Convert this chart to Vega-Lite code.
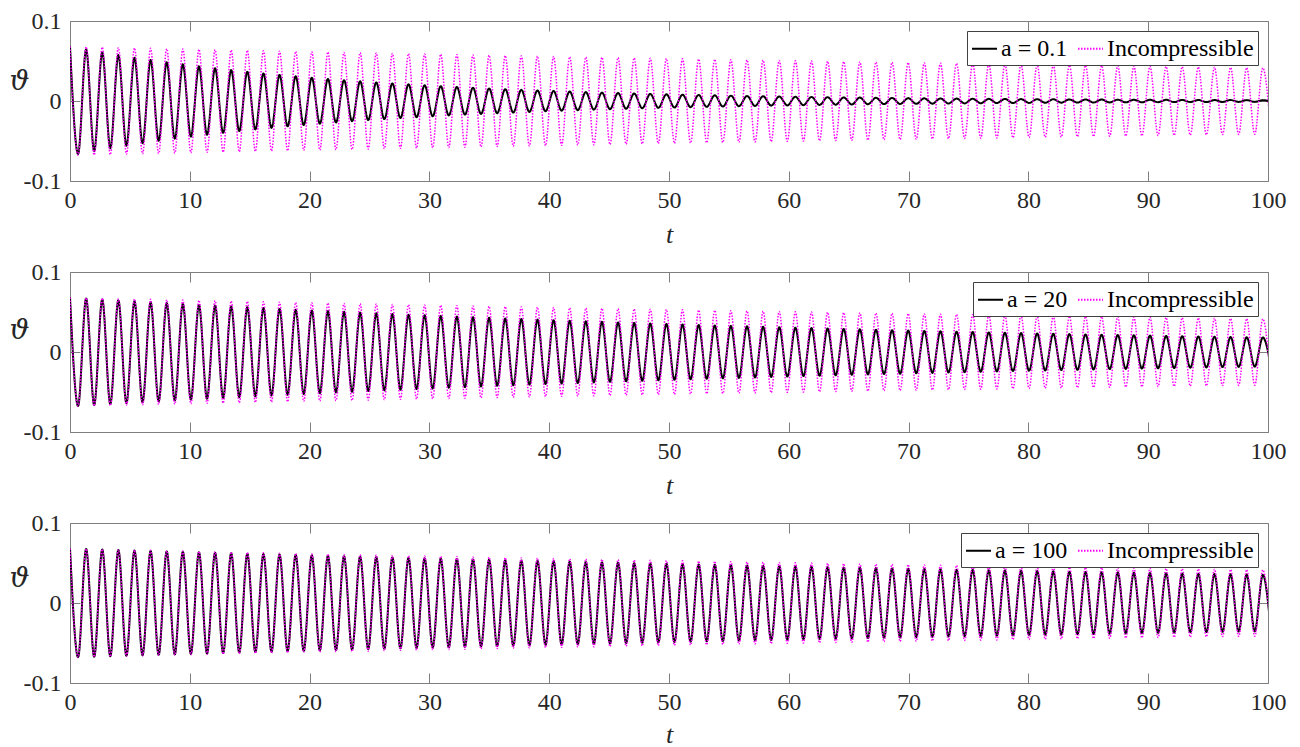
{
"$schema": "https://vega.github.io/schema/vega-lite/v6.json",
"autosize": {"type": "pad"},
"padding": {"top": 8, "left": 8, "right": 0, "bottom": 0},
"background": "#ffffff",
"config": {
 "font": "Liberation Serif",
 "style": {"guide-label": {"font": "Liberation Serif", "fontSize": 24}, "guide-title": {"font": "Liberation Serif", "fontSize": 26}},
 "view": {"stroke": "#7f7f7f", "strokeWidth": 1},
 "axis": {"domain": false, "grid": false, "tickColor": "#7f7f7f", "tickSize": -10, "tickWidth": 1, "labelFont": "Liberation Serif", "labelFontSize": 24, "labelColor": "#262626", "titleFont": "Liberation Serif", "titleFontSize": 26, "titleColor": "#262626", "titleFontWeight": "normal", "titleFontStyle": "italic"},
 "legend": {"orient": "top-right", "direction": "horizontal", "offset": 10, "padding": 4, "fillColor": "#ffffff", "strokeColor": "#404040", "cornerRadius": 0, "labelFont": "Liberation Serif", "labelFontSize": 24, "labelColor": "#000000", "symbolType": "stroke", "symbolSize": 625, "symbolStrokeWidth": 2, "columnPadding": 6, "labelOffset": 3}
},
"spacing": 91,
"bounds": "flush",
"resolve": {"scale": {"color": "independent", "strokeDash": "independent"}},
"datasets": {"d": [
{"s":"Incompressible","t":0,"v":0.068},{"s":"Incompressible","t":0.673,"v":-0.0678},{"s":"Incompressible","t":1.346,"v":0.0676},{"s":"Incompressible","t":2.018,"v":-0.0673},{"s":"Incompressible","t":2.691,"v":0.0671},{"s":"Incompressible","t":3.364,"v":-0.0669},{"s":"Incompressible","t":4.037,"v":0.0667},{"s":"Incompressible","t":4.709,"v":-0.0664},{"s":"Incompressible","t":5.382,"v":0.0662},{"s":"Incompressible","t":6.055,"v":-0.066},
{"s":"Incompressible","t":6.728,"v":0.0658},{"s":"Incompressible","t":7.4,"v":-0.0655},{"s":"Incompressible","t":8.073,"v":0.0653},{"s":"Incompressible","t":8.746,"v":-0.0651},{"s":"Incompressible","t":9.419,"v":0.0649},{"s":"Incompressible","t":10.091,"v":-0.0647},{"s":"Incompressible","t":10.764,"v":0.0645},{"s":"Incompressible","t":11.437,"v":-0.0642},{"s":"Incompressible","t":12.11,"v":0.064},{"s":"Incompressible","t":12.782,"v":-0.0638},
{"s":"Incompressible","t":13.455,"v":0.0636},{"s":"Incompressible","t":14.128,"v":-0.0634},{"s":"Incompressible","t":14.801,"v":0.0632},{"s":"Incompressible","t":15.473,"v":-0.063},{"s":"Incompressible","t":16.146,"v":0.0627},{"s":"Incompressible","t":16.819,"v":-0.0625},{"s":"Incompressible","t":17.492,"v":0.0623},{"s":"Incompressible","t":18.164,"v":-0.0621},{"s":"Incompressible","t":18.837,"v":0.0619},{"s":"Incompressible","t":19.51,"v":-0.0617},
{"s":"Incompressible","t":20.183,"v":0.0615},{"s":"Incompressible","t":20.855,"v":-0.0613},{"s":"Incompressible","t":21.528,"v":0.0611},{"s":"Incompressible","t":22.201,"v":-0.0609},{"s":"Incompressible","t":22.874,"v":0.0607},{"s":"Incompressible","t":23.546,"v":-0.0605},{"s":"Incompressible","t":24.219,"v":0.0603},{"s":"Incompressible","t":24.892,"v":-0.0601},{"s":"Incompressible","t":25.565,"v":0.0599},{"s":"Incompressible","t":26.237,"v":-0.0596},
{"s":"Incompressible","t":26.91,"v":0.0594},{"s":"Incompressible","t":27.583,"v":-0.0592},{"s":"Incompressible","t":28.256,"v":0.0591},{"s":"Incompressible","t":28.928,"v":-0.0589},{"s":"Incompressible","t":29.601,"v":0.0587},{"s":"Incompressible","t":30.274,"v":-0.0585},{"s":"Incompressible","t":30.947,"v":0.0583},{"s":"Incompressible","t":31.619,"v":-0.0581},{"s":"Incompressible","t":32.292,"v":0.0579},{"s":"Incompressible","t":32.965,"v":-0.0577},
{"s":"Incompressible","t":33.638,"v":0.0575},{"s":"Incompressible","t":34.31,"v":-0.0573},{"s":"Incompressible","t":34.983,"v":0.0571},{"s":"Incompressible","t":35.656,"v":-0.0569},{"s":"Incompressible","t":36.329,"v":0.0567},{"s":"Incompressible","t":37.001,"v":-0.0565},{"s":"Incompressible","t":37.674,"v":0.0563},{"s":"Incompressible","t":38.347,"v":-0.0561},{"s":"Incompressible","t":39.02,"v":0.056},{"s":"Incompressible","t":39.692,"v":-0.0558},
{"s":"Incompressible","t":40.365,"v":0.0556},{"s":"Incompressible","t":41.038,"v":-0.0554},{"s":"Incompressible","t":41.711,"v":0.0552},{"s":"Incompressible","t":42.383,"v":-0.055},{"s":"Incompressible","t":43.056,"v":0.0548},{"s":"Incompressible","t":43.729,"v":-0.0547},{"s":"Incompressible","t":44.402,"v":0.0545},{"s":"Incompressible","t":45.074,"v":-0.0543},{"s":"Incompressible","t":45.747,"v":0.0541},{"s":"Incompressible","t":46.42,"v":-0.0539},
{"s":"Incompressible","t":47.093,"v":0.0537},{"s":"Incompressible","t":47.765,"v":-0.0536},{"s":"Incompressible","t":48.438,"v":0.0534},{"s":"Incompressible","t":49.111,"v":-0.0532},{"s":"Incompressible","t":49.784,"v":0.053},{"s":"Incompressible","t":50.456,"v":-0.0529},{"s":"Incompressible","t":51.129,"v":0.0527},{"s":"Incompressible","t":51.802,"v":-0.0525},{"s":"Incompressible","t":52.475,"v":0.0523},{"s":"Incompressible","t":53.147,"v":-0.0521},
{"s":"Incompressible","t":53.82,"v":0.052},{"s":"Incompressible","t":54.493,"v":-0.0518},{"s":"Incompressible","t":55.166,"v":0.0516},{"s":"Incompressible","t":55.838,"v":-0.0514},{"s":"Incompressible","t":56.511,"v":0.0513},{"s":"Incompressible","t":57.184,"v":-0.0511},{"s":"Incompressible","t":57.857,"v":0.0509},{"s":"Incompressible","t":58.529,"v":-0.0508},{"s":"Incompressible","t":59.202,"v":0.0506},{"s":"Incompressible","t":59.875,"v":-0.0504},
{"s":"Incompressible","t":60.548,"v":0.0502},{"s":"Incompressible","t":61.22,"v":-0.0501},{"s":"Incompressible","t":61.893,"v":0.0499},{"s":"Incompressible","t":62.566,"v":-0.0497},{"s":"Incompressible","t":63.239,"v":0.0496},{"s":"Incompressible","t":63.911,"v":-0.0494},{"s":"Incompressible","t":64.584,"v":0.0492},{"s":"Incompressible","t":65.257,"v":-0.0491},{"s":"Incompressible","t":65.93,"v":0.0489},{"s":"Incompressible","t":66.602,"v":-0.0488},
{"s":"Incompressible","t":67.275,"v":0.0486},{"s":"Incompressible","t":67.948,"v":-0.0484},{"s":"Incompressible","t":68.621,"v":0.0483},{"s":"Incompressible","t":69.293,"v":-0.0481},{"s":"Incompressible","t":69.966,"v":0.0479},{"s":"Incompressible","t":70.639,"v":-0.0478},{"s":"Incompressible","t":71.312,"v":0.0476},{"s":"Incompressible","t":71.984,"v":-0.0475},{"s":"Incompressible","t":72.657,"v":0.0473},{"s":"Incompressible","t":73.33,"v":-0.0471},
{"s":"Incompressible","t":74.003,"v":0.047},{"s":"Incompressible","t":74.675,"v":-0.0468},{"s":"Incompressible","t":75.348,"v":0.0467},{"s":"Incompressible","t":76.021,"v":-0.0465},{"s":"Incompressible","t":76.694,"v":0.0464},{"s":"Incompressible","t":77.366,"v":-0.0462},{"s":"Incompressible","t":78.039,"v":0.046},{"s":"Incompressible","t":78.712,"v":-0.0459},{"s":"Incompressible","t":79.385,"v":0.0457},{"s":"Incompressible","t":80.057,"v":-0.0456},
{"s":"Incompressible","t":80.73,"v":0.0454},{"s":"Incompressible","t":81.403,"v":-0.0453},{"s":"Incompressible","t":82.076,"v":0.0451},{"s":"Incompressible","t":82.748,"v":-0.045},{"s":"Incompressible","t":83.421,"v":0.0448},{"s":"Incompressible","t":84.094,"v":-0.0447},{"s":"Incompressible","t":84.767,"v":0.0445},{"s":"Incompressible","t":85.439,"v":-0.0444},{"s":"Incompressible","t":86.112,"v":0.0442},{"s":"Incompressible","t":86.785,"v":-0.0441},
{"s":"Incompressible","t":87.458,"v":0.0439},{"s":"Incompressible","t":88.13,"v":-0.0438},{"s":"Incompressible","t":88.803,"v":0.0436},{"s":"Incompressible","t":89.476,"v":-0.0435},{"s":"Incompressible","t":90.149,"v":0.0433},{"s":"Incompressible","t":90.821,"v":-0.0432},{"s":"Incompressible","t":91.494,"v":0.043},{"s":"Incompressible","t":92.167,"v":-0.0429},{"s":"Incompressible","t":92.84,"v":0.0428},{"s":"Incompressible","t":93.512,"v":-0.0426},
{"s":"Incompressible","t":94.185,"v":0.0425},{"s":"Incompressible","t":94.858,"v":-0.0423},{"s":"Incompressible","t":95.531,"v":0.0422},{"s":"Incompressible","t":96.203,"v":-0.042},{"s":"Incompressible","t":96.876,"v":0.0419},{"s":"Incompressible","t":97.549,"v":-0.0418},{"s":"Incompressible","t":98.222,"v":0.0416},{"s":"Incompressible","t":98.894,"v":-0.0415},{"s":"Incompressible","t":99.567,"v":0.0413},{"s":"Incompressible","t":100.24,"v":-0.0412},
{"s":"a = 0.1","t":0,"v":0.068},{"s":"a = 0.1","t":0.673,"v":-0.0661},{"s":"a = 0.1","t":1.346,"v":0.0643},{"s":"a = 0.1","t":2.018,"v":-0.0625},{"s":"a = 0.1","t":2.691,"v":0.0607},{"s":"a = 0.1","t":3.364,"v":-0.059},{"s":"a = 0.1","t":4.037,"v":0.0574},{"s":"a = 0.1","t":4.709,"v":-0.0558},{"s":"a = 0.1","t":5.382,"v":0.0542},{"s":"a = 0.1","t":6.055,"v":-0.0527},
{"s":"a = 0.1","t":6.728,"v":0.0513},{"s":"a = 0.1","t":7.4,"v":-0.0498},{"s":"a = 0.1","t":8.073,"v":0.0484},{"s":"a = 0.1","t":8.746,"v":-0.0471},{"s":"a = 0.1","t":9.419,"v":0.0458},{"s":"a = 0.1","t":10.091,"v":-0.0445},{"s":"a = 0.1","t":10.764,"v":0.0433},{"s":"a = 0.1","t":11.437,"v":-0.0421},{"s":"a = 0.1","t":12.11,"v":0.0409},{"s":"a = 0.1","t":12.782,"v":-0.0398},
{"s":"a = 0.1","t":13.455,"v":0.0386},{"s":"a = 0.1","t":14.128,"v":-0.0376},{"s":"a = 0.1","t":14.801,"v":0.0365},{"s":"a = 0.1","t":15.473,"v":-0.0355},{"s":"a = 0.1","t":16.146,"v":0.0345},{"s":"a = 0.1","t":16.819,"v":-0.0336},{"s":"a = 0.1","t":17.492,"v":0.0326},{"s":"a = 0.1","t":18.164,"v":-0.0317},{"s":"a = 0.1","t":18.837,"v":0.0308},{"s":"a = 0.1","t":19.51,"v":-0.03},
{"s":"a = 0.1","t":20.183,"v":0.0291},{"s":"a = 0.1","t":20.855,"v":-0.0283},{"s":"a = 0.1","t":21.528,"v":0.0275},{"s":"a = 0.1","t":22.201,"v":-0.0268},{"s":"a = 0.1","t":22.874,"v":0.026},{"s":"a = 0.1","t":23.546,"v":-0.0253},{"s":"a = 0.1","t":24.219,"v":0.0246},{"s":"a = 0.1","t":24.892,"v":-0.0239},{"s":"a = 0.1","t":25.565,"v":0.0232},{"s":"a = 0.1","t":26.237,"v":-0.0226},
{"s":"a = 0.1","t":26.91,"v":0.022},{"s":"a = 0.1","t":27.583,"v":-0.0213},{"s":"a = 0.1","t":28.256,"v":0.0208},{"s":"a = 0.1","t":28.928,"v":-0.0202},{"s":"a = 0.1","t":29.601,"v":0.0196},{"s":"a = 0.1","t":30.274,"v":-0.0191},{"s":"a = 0.1","t":30.947,"v":0.0185},{"s":"a = 0.1","t":31.619,"v":-0.018},{"s":"a = 0.1","t":32.292,"v":0.0175},{"s":"a = 0.1","t":32.965,"v":-0.017},
{"s":"a = 0.1","t":33.638,"v":0.0166},{"s":"a = 0.1","t":34.31,"v":-0.0161},{"s":"a = 0.1","t":34.983,"v":0.0156},{"s":"a = 0.1","t":35.656,"v":-0.0152},{"s":"a = 0.1","t":36.329,"v":0.0148},{"s":"a = 0.1","t":37.001,"v":-0.0144},{"s":"a = 0.1","t":37.674,"v":0.014},{"s":"a = 0.1","t":38.347,"v":-0.0136},{"s":"a = 0.1","t":39.02,"v":0.0132},{"s":"a = 0.1","t":39.692,"v":-0.0128},
{"s":"a = 0.1","t":40.365,"v":0.0125},{"s":"a = 0.1","t":41.038,"v":-0.0121},{"s":"a = 0.1","t":41.711,"v":0.0118},{"s":"a = 0.1","t":42.383,"v":-0.0115},{"s":"a = 0.1","t":43.056,"v":0.0111},{"s":"a = 0.1","t":43.729,"v":-0.0108},{"s":"a = 0.1","t":44.402,"v":0.0105},{"s":"a = 0.1","t":45.074,"v":-0.0102},{"s":"a = 0.1","t":45.747,"v":0.01},{"s":"a = 0.1","t":46.42,"v":-0.0097},
{"s":"a = 0.1","t":47.093,"v":0.0094},{"s":"a = 0.1","t":47.765,"v":-0.0091},{"s":"a = 0.1","t":48.438,"v":0.0089},{"s":"a = 0.1","t":49.111,"v":-0.0086},{"s":"a = 0.1","t":49.784,"v":0.0084},{"s":"a = 0.1","t":50.456,"v":-0.0082},{"s":"a = 0.1","t":51.129,"v":0.0079},{"s":"a = 0.1","t":51.802,"v":-0.0077},{"s":"a = 0.1","t":52.475,"v":0.0075},{"s":"a = 0.1","t":53.147,"v":-0.0073},
{"s":"a = 0.1","t":53.82,"v":0.0071},{"s":"a = 0.1","t":54.493,"v":-0.0069},{"s":"a = 0.1","t":55.166,"v":0.0067},{"s":"a = 0.1","t":55.838,"v":-0.0065},{"s":"a = 0.1","t":56.511,"v":0.0063},{"s":"a = 0.1","t":57.184,"v":-0.0062},{"s":"a = 0.1","t":57.857,"v":0.006},{"s":"a = 0.1","t":58.529,"v":-0.0058},{"s":"a = 0.1","t":59.202,"v":0.0057},{"s":"a = 0.1","t":59.875,"v":-0.0055},
{"s":"a = 0.1","t":60.548,"v":0.0053},{"s":"a = 0.1","t":61.22,"v":-0.0052},{"s":"a = 0.1","t":61.893,"v":0.0051},{"s":"a = 0.1","t":62.566,"v":-0.0049},{"s":"a = 0.1","t":63.239,"v":0.0048},{"s":"a = 0.1","t":63.911,"v":-0.0046},{"s":"a = 0.1","t":64.584,"v":0.0045},{"s":"a = 0.1","t":65.257,"v":-0.0044},{"s":"a = 0.1","t":65.93,"v":0.0043},{"s":"a = 0.1","t":66.602,"v":-0.0041},
{"s":"a = 0.1","t":67.275,"v":0.004},{"s":"a = 0.1","t":67.948,"v":-0.0039},{"s":"a = 0.1","t":68.621,"v":0.0038},{"s":"a = 0.1","t":69.293,"v":-0.0037},{"s":"a = 0.1","t":69.966,"v":0.0036},{"s":"a = 0.1","t":70.639,"v":-0.0035},{"s":"a = 0.1","t":71.312,"v":0.0034},{"s":"a = 0.1","t":71.984,"v":-0.0033},{"s":"a = 0.1","t":72.657,"v":0.0032},{"s":"a = 0.1","t":73.33,"v":-0.0031},
{"s":"a = 0.1","t":74.003,"v":0.003},{"s":"a = 0.1","t":74.675,"v":-0.003},{"s":"a = 0.1","t":75.348,"v":0.0029},{"s":"a = 0.1","t":76.021,"v":-0.0028},{"s":"a = 0.1","t":76.694,"v":0.0027},{"s":"a = 0.1","t":77.366,"v":-0.0026},{"s":"a = 0.1","t":78.039,"v":0.0026},{"s":"a = 0.1","t":78.712,"v":-0.0025},{"s":"a = 0.1","t":79.385,"v":0.0024},{"s":"a = 0.1","t":80.057,"v":-0.0024},
{"s":"a = 0.1","t":80.73,"v":0.0023},{"s":"a = 0.1","t":81.403,"v":-0.0022},{"s":"a = 0.1","t":82.076,"v":0.0022},{"s":"a = 0.1","t":82.748,"v":-0.0021},{"s":"a = 0.1","t":83.421,"v":0.002},{"s":"a = 0.1","t":84.094,"v":-0.002},{"s":"a = 0.1","t":84.767,"v":0.0019},{"s":"a = 0.1","t":85.439,"v":-0.0019},{"s":"a = 0.1","t":86.112,"v":0.0018},{"s":"a = 0.1","t":86.785,"v":-0.0018},
{"s":"a = 0.1","t":87.458,"v":0.0017},{"s":"a = 0.1","t":88.13,"v":-0.0017},{"s":"a = 0.1","t":88.803,"v":0.0016},{"s":"a = 0.1","t":89.476,"v":-0.0016},{"s":"a = 0.1","t":90.149,"v":0.0015},{"s":"a = 0.1","t":90.821,"v":-0.0015},{"s":"a = 0.1","t":91.494,"v":0.0015},{"s":"a = 0.1","t":92.167,"v":-0.0014},{"s":"a = 0.1","t":92.84,"v":0.0014},{"s":"a = 0.1","t":93.512,"v":-0.0013},
{"s":"a = 0.1","t":94.185,"v":0.0013},{"s":"a = 0.1","t":94.858,"v":-0.0013},{"s":"a = 0.1","t":95.531,"v":0.0012},{"s":"a = 0.1","t":96.203,"v":-0.0012},{"s":"a = 0.1","t":96.876,"v":0.0012},{"s":"a = 0.1","t":97.549,"v":-0.0011},{"s":"a = 0.1","t":98.222,"v":0.0011},{"s":"a = 0.1","t":98.894,"v":-0.0011},{"s":"a = 0.1","t":99.567,"v":0.001},{"s":"a = 0.1","t":100.24,"v":-0.001},
{"s":"a = 20","t":0,"v":0.068},{"s":"a = 20","t":0.673,"v":-0.0674},{"s":"a = 20","t":1.346,"v":0.0668},{"s":"a = 20","t":2.018,"v":-0.0662},{"s":"a = 20","t":2.691,"v":0.0656},{"s":"a = 20","t":3.364,"v":-0.065},{"s":"a = 20","t":4.037,"v":0.0644},{"s":"a = 20","t":4.709,"v":-0.0639},{"s":"a = 20","t":5.382,"v":0.0633},{"s":"a = 20","t":6.055,"v":-0.0627},
{"s":"a = 20","t":6.728,"v":0.0622},{"s":"a = 20","t":7.4,"v":-0.0616},{"s":"a = 20","t":8.073,"v":0.0611},{"s":"a = 20","t":8.746,"v":-0.0605},{"s":"a = 20","t":9.419,"v":0.06},{"s":"a = 20","t":10.091,"v":-0.0595},{"s":"a = 20","t":10.764,"v":0.0589},{"s":"a = 20","t":11.437,"v":-0.0584},{"s":"a = 20","t":12.11,"v":0.0579},{"s":"a = 20","t":12.782,"v":-0.0574},
{"s":"a = 20","t":13.455,"v":0.0569},{"s":"a = 20","t":14.128,"v":-0.0564},{"s":"a = 20","t":14.801,"v":0.0559},{"s":"a = 20","t":15.473,"v":-0.0554},{"s":"a = 20","t":16.146,"v":0.0549},{"s":"a = 20","t":16.819,"v":-0.0544},{"s":"a = 20","t":17.492,"v":0.0539},{"s":"a = 20","t":18.164,"v":-0.0534},{"s":"a = 20","t":18.837,"v":0.0529},{"s":"a = 20","t":19.51,"v":-0.0525},
{"s":"a = 20","t":20.183,"v":0.052},{"s":"a = 20","t":20.855,"v":-0.0515},{"s":"a = 20","t":21.528,"v":0.0511},{"s":"a = 20","t":22.201,"v":-0.0506},{"s":"a = 20","t":22.874,"v":0.0502},{"s":"a = 20","t":23.546,"v":-0.0497},{"s":"a = 20","t":24.219,"v":0.0493},{"s":"a = 20","t":24.892,"v":-0.0488},{"s":"a = 20","t":25.565,"v":0.0484},{"s":"a = 20","t":26.237,"v":-0.048},
{"s":"a = 20","t":26.91,"v":0.0475},{"s":"a = 20","t":27.583,"v":-0.0471},{"s":"a = 20","t":28.256,"v":0.0467},{"s":"a = 20","t":28.928,"v":-0.0463},{"s":"a = 20","t":29.601,"v":0.0459},{"s":"a = 20","t":30.274,"v":-0.0455},{"s":"a = 20","t":30.947,"v":0.0451},{"s":"a = 20","t":31.619,"v":-0.0447},{"s":"a = 20","t":32.292,"v":0.0443},{"s":"a = 20","t":32.965,"v":-0.0439},
{"s":"a = 20","t":33.638,"v":0.0435},{"s":"a = 20","t":34.31,"v":-0.0431},{"s":"a = 20","t":34.983,"v":0.0427},{"s":"a = 20","t":35.656,"v":-0.0423},{"s":"a = 20","t":36.329,"v":0.0419},{"s":"a = 20","t":37.001,"v":-0.0416},{"s":"a = 20","t":37.674,"v":0.0412},{"s":"a = 20","t":38.347,"v":-0.0408},{"s":"a = 20","t":39.02,"v":0.0405},{"s":"a = 20","t":39.692,"v":-0.0401},
{"s":"a = 20","t":40.365,"v":0.0398},{"s":"a = 20","t":41.038,"v":-0.0394},{"s":"a = 20","t":41.711,"v":0.039},{"s":"a = 20","t":42.383,"v":-0.0387},{"s":"a = 20","t":43.056,"v":0.0384},{"s":"a = 20","t":43.729,"v":-0.038},{"s":"a = 20","t":44.402,"v":0.0377},{"s":"a = 20","t":45.074,"v":-0.0373},{"s":"a = 20","t":45.747,"v":0.037},{"s":"a = 20","t":46.42,"v":-0.0367},
{"s":"a = 20","t":47.093,"v":0.0364},{"s":"a = 20","t":47.765,"v":-0.036},{"s":"a = 20","t":48.438,"v":0.0357},{"s":"a = 20","t":49.111,"v":-0.0354},{"s":"a = 20","t":49.784,"v":0.0351},{"s":"a = 20","t":50.456,"v":-0.0348},{"s":"a = 20","t":51.129,"v":0.0344},{"s":"a = 20","t":51.802,"v":-0.0341},{"s":"a = 20","t":52.475,"v":0.0338},{"s":"a = 20","t":53.147,"v":-0.0335},
{"s":"a = 20","t":53.82,"v":0.0332},{"s":"a = 20","t":54.493,"v":-0.0329},{"s":"a = 20","t":55.166,"v":0.0326},{"s":"a = 20","t":55.838,"v":-0.0324},{"s":"a = 20","t":56.511,"v":0.0321},{"s":"a = 20","t":57.184,"v":-0.0318},{"s":"a = 20","t":57.857,"v":0.0315},{"s":"a = 20","t":58.529,"v":-0.0312},{"s":"a = 20","t":59.202,"v":0.0309},{"s":"a = 20","t":59.875,"v":-0.0307},
{"s":"a = 20","t":60.548,"v":0.0304},{"s":"a = 20","t":61.22,"v":-0.0301},{"s":"a = 20","t":61.893,"v":0.0299},{"s":"a = 20","t":62.566,"v":-0.0296},{"s":"a = 20","t":63.239,"v":0.0293},{"s":"a = 20","t":63.911,"v":-0.0291},{"s":"a = 20","t":64.584,"v":0.0288},{"s":"a = 20","t":65.257,"v":-0.0285},{"s":"a = 20","t":65.93,"v":0.0283},{"s":"a = 20","t":66.602,"v":-0.028},
{"s":"a = 20","t":67.275,"v":0.0278},{"s":"a = 20","t":67.948,"v":-0.0275},{"s":"a = 20","t":68.621,"v":0.0273},{"s":"a = 20","t":69.293,"v":-0.0271},{"s":"a = 20","t":69.966,"v":0.0268},{"s":"a = 20","t":70.639,"v":-0.0266},{"s":"a = 20","t":71.312,"v":0.0263},{"s":"a = 20","t":71.984,"v":-0.0261},{"s":"a = 20","t":72.657,"v":0.0259},{"s":"a = 20","t":73.33,"v":-0.0256},
{"s":"a = 20","t":74.003,"v":0.0254},{"s":"a = 20","t":74.675,"v":-0.0252},{"s":"a = 20","t":75.348,"v":0.025},{"s":"a = 20","t":76.021,"v":-0.0247},{"s":"a = 20","t":76.694,"v":0.0245},{"s":"a = 20","t":77.366,"v":-0.0243},{"s":"a = 20","t":78.039,"v":0.0241},{"s":"a = 20","t":78.712,"v":-0.0239},{"s":"a = 20","t":79.385,"v":0.0237},{"s":"a = 20","t":80.057,"v":-0.0234},
{"s":"a = 20","t":80.73,"v":0.0232},{"s":"a = 20","t":81.403,"v":-0.023},{"s":"a = 20","t":82.076,"v":0.0228},{"s":"a = 20","t":82.748,"v":-0.0226},{"s":"a = 20","t":83.421,"v":0.0224},{"s":"a = 20","t":84.094,"v":-0.0222},{"s":"a = 20","t":84.767,"v":0.022},{"s":"a = 20","t":85.439,"v":-0.0218},{"s":"a = 20","t":86.112,"v":0.0216},{"s":"a = 20","t":86.785,"v":-0.0214},
{"s":"a = 20","t":87.458,"v":0.0213},{"s":"a = 20","t":88.13,"v":-0.0211},{"s":"a = 20","t":88.803,"v":0.0209},{"s":"a = 20","t":89.476,"v":-0.0207},{"s":"a = 20","t":90.149,"v":0.0205},{"s":"a = 20","t":90.821,"v":-0.0203},{"s":"a = 20","t":91.494,"v":0.0201},{"s":"a = 20","t":92.167,"v":-0.02},{"s":"a = 20","t":92.84,"v":0.0198},{"s":"a = 20","t":93.512,"v":-0.0196},
{"s":"a = 20","t":94.185,"v":0.0194},{"s":"a = 20","t":94.858,"v":-0.0193},{"s":"a = 20","t":95.531,"v":0.0191},{"s":"a = 20","t":96.203,"v":-0.0189},{"s":"a = 20","t":96.876,"v":0.0187},{"s":"a = 20","t":97.549,"v":-0.0186},{"s":"a = 20","t":98.222,"v":0.0184},{"s":"a = 20","t":98.894,"v":-0.0183},{"s":"a = 20","t":99.567,"v":0.0181},{"s":"a = 20","t":100.24,"v":-0.0179},
{"s":"a = 100","t":0,"v":0.068},{"s":"a = 100","t":0.673,"v":-0.0677},{"s":"a = 100","t":1.346,"v":0.0674},{"s":"a = 100","t":2.018,"v":-0.0671},{"s":"a = 100","t":2.691,"v":0.0668},{"s":"a = 100","t":3.364,"v":-0.0665},{"s":"a = 100","t":4.037,"v":0.0662},{"s":"a = 100","t":4.709,"v":-0.0659},{"s":"a = 100","t":5.382,"v":0.0656},{"s":"a = 100","t":6.055,"v":-0.0653},
{"s":"a = 100","t":6.728,"v":0.065},{"s":"a = 100","t":7.4,"v":-0.0648},{"s":"a = 100","t":8.073,"v":0.0645},{"s":"a = 100","t":8.746,"v":-0.0642},{"s":"a = 100","t":9.419,"v":0.0639},{"s":"a = 100","t":10.091,"v":-0.0636},{"s":"a = 100","t":10.764,"v":0.0633},{"s":"a = 100","t":11.437,"v":-0.0631},{"s":"a = 100","t":12.11,"v":0.0628},{"s":"a = 100","t":12.782,"v":-0.0625},
{"s":"a = 100","t":13.455,"v":0.0622},{"s":"a = 100","t":14.128,"v":-0.0619},{"s":"a = 100","t":14.801,"v":0.0617},{"s":"a = 100","t":15.473,"v":-0.0614},{"s":"a = 100","t":16.146,"v":0.0611},{"s":"a = 100","t":16.819,"v":-0.0609},{"s":"a = 100","t":17.492,"v":0.0606},{"s":"a = 100","t":18.164,"v":-0.0603},{"s":"a = 100","t":18.837,"v":0.0601},{"s":"a = 100","t":19.51,"v":-0.0598},
{"s":"a = 100","t":20.183,"v":0.0595},{"s":"a = 100","t":20.855,"v":-0.0593},{"s":"a = 100","t":21.528,"v":0.059},{"s":"a = 100","t":22.201,"v":-0.0587},{"s":"a = 100","t":22.874,"v":0.0585},{"s":"a = 100","t":23.546,"v":-0.0582},{"s":"a = 100","t":24.219,"v":0.058},{"s":"a = 100","t":24.892,"v":-0.0577},{"s":"a = 100","t":25.565,"v":0.0574},{"s":"a = 100","t":26.237,"v":-0.0572},
{"s":"a = 100","t":26.91,"v":0.0569},{"s":"a = 100","t":27.583,"v":-0.0567},{"s":"a = 100","t":28.256,"v":0.0564},{"s":"a = 100","t":28.928,"v":-0.0562},{"s":"a = 100","t":29.601,"v":0.0559},{"s":"a = 100","t":30.274,"v":-0.0557},{"s":"a = 100","t":30.947,"v":0.0554},{"s":"a = 100","t":31.619,"v":-0.0552},{"s":"a = 100","t":32.292,"v":0.0549},{"s":"a = 100","t":32.965,"v":-0.0547},
{"s":"a = 100","t":33.638,"v":0.0545},{"s":"a = 100","t":34.31,"v":-0.0542},{"s":"a = 100","t":34.983,"v":0.054},{"s":"a = 100","t":35.656,"v":-0.0537},{"s":"a = 100","t":36.329,"v":0.0535},{"s":"a = 100","t":37.001,"v":-0.0533},{"s":"a = 100","t":37.674,"v":0.053},{"s":"a = 100","t":38.347,"v":-0.0528},{"s":"a = 100","t":39.02,"v":0.0526},{"s":"a = 100","t":39.692,"v":-0.0523},
{"s":"a = 100","t":40.365,"v":0.0521},{"s":"a = 100","t":41.038,"v":-0.0519},{"s":"a = 100","t":41.711,"v":0.0516},{"s":"a = 100","t":42.383,"v":-0.0514},{"s":"a = 100","t":43.056,"v":0.0512},{"s":"a = 100","t":43.729,"v":-0.051},{"s":"a = 100","t":44.402,"v":0.0507},{"s":"a = 100","t":45.074,"v":-0.0505},{"s":"a = 100","t":45.747,"v":0.0503},{"s":"a = 100","t":46.42,"v":-0.0501},
{"s":"a = 100","t":47.093,"v":0.0498},{"s":"a = 100","t":47.765,"v":-0.0496},{"s":"a = 100","t":48.438,"v":0.0494},{"s":"a = 100","t":49.111,"v":-0.0492},{"s":"a = 100","t":49.784,"v":0.049},{"s":"a = 100","t":50.456,"v":-0.0487},{"s":"a = 100","t":51.129,"v":0.0485},{"s":"a = 100","t":51.802,"v":-0.0483},{"s":"a = 100","t":52.475,"v":0.0481},{"s":"a = 100","t":53.147,"v":-0.0479},
{"s":"a = 100","t":53.82,"v":0.0477},{"s":"a = 100","t":54.493,"v":-0.0475},{"s":"a = 100","t":55.166,"v":0.0472},{"s":"a = 100","t":55.838,"v":-0.047},{"s":"a = 100","t":56.511,"v":0.0468},{"s":"a = 100","t":57.184,"v":-0.0466},{"s":"a = 100","t":57.857,"v":0.0464},{"s":"a = 100","t":58.529,"v":-0.0462},{"s":"a = 100","t":59.202,"v":0.046},{"s":"a = 100","t":59.875,"v":-0.0458},
{"s":"a = 100","t":60.548,"v":0.0456},{"s":"a = 100","t":61.22,"v":-0.0454},{"s":"a = 100","t":61.893,"v":0.0452},{"s":"a = 100","t":62.566,"v":-0.045},{"s":"a = 100","t":63.239,"v":0.0448},{"s":"a = 100","t":63.911,"v":-0.0446},{"s":"a = 100","t":64.584,"v":0.0444},{"s":"a = 100","t":65.257,"v":-0.0442},{"s":"a = 100","t":65.93,"v":0.044},{"s":"a = 100","t":66.602,"v":-0.0438},
{"s":"a = 100","t":67.275,"v":0.0436},{"s":"a = 100","t":67.948,"v":-0.0434},{"s":"a = 100","t":68.621,"v":0.0432},{"s":"a = 100","t":69.293,"v":-0.043},{"s":"a = 100","t":69.966,"v":0.0429},{"s":"a = 100","t":70.639,"v":-0.0427},{"s":"a = 100","t":71.312,"v":0.0425},{"s":"a = 100","t":71.984,"v":-0.0423},{"s":"a = 100","t":72.657,"v":0.0421},{"s":"a = 100","t":73.33,"v":-0.0419},
{"s":"a = 100","t":74.003,"v":0.0417},{"s":"a = 100","t":74.675,"v":-0.0415},{"s":"a = 100","t":75.348,"v":0.0414},{"s":"a = 100","t":76.021,"v":-0.0412},{"s":"a = 100","t":76.694,"v":0.041},{"s":"a = 100","t":77.366,"v":-0.0408},{"s":"a = 100","t":78.039,"v":0.0406},{"s":"a = 100","t":78.712,"v":-0.0404},{"s":"a = 100","t":79.385,"v":0.0403},{"s":"a = 100","t":80.057,"v":-0.0401},
{"s":"a = 100","t":80.73,"v":0.0399},{"s":"a = 100","t":81.403,"v":-0.0397},{"s":"a = 100","t":82.076,"v":0.0396},{"s":"a = 100","t":82.748,"v":-0.0394},{"s":"a = 100","t":83.421,"v":0.0392},{"s":"a = 100","t":84.094,"v":-0.039},{"s":"a = 100","t":84.767,"v":0.0389},{"s":"a = 100","t":85.439,"v":-0.0387},{"s":"a = 100","t":86.112,"v":0.0385},{"s":"a = 100","t":86.785,"v":-0.0383},
{"s":"a = 100","t":87.458,"v":0.0382},{"s":"a = 100","t":88.13,"v":-0.038},{"s":"a = 100","t":88.803,"v":0.0378},{"s":"a = 100","t":89.476,"v":-0.0377},{"s":"a = 100","t":90.149,"v":0.0375},{"s":"a = 100","t":90.821,"v":-0.0373},{"s":"a = 100","t":91.494,"v":0.0372},{"s":"a = 100","t":92.167,"v":-0.037},{"s":"a = 100","t":92.84,"v":0.0368},{"s":"a = 100","t":93.512,"v":-0.0367},
{"s":"a = 100","t":94.185,"v":0.0365},{"s":"a = 100","t":94.858,"v":-0.0364},{"s":"a = 100","t":95.531,"v":0.0362},{"s":"a = 100","t":96.203,"v":-0.036},{"s":"a = 100","t":96.876,"v":0.0359},{"s":"a = 100","t":97.549,"v":-0.0357},{"s":"a = 100","t":98.222,"v":0.0356},{"s":"a = 100","t":98.894,"v":-0.0354},{"s":"a = 100","t":99.567,"v":0.0352},{"s":"a = 100","t":100.24,"v":-0.0351}
]},
"vconcat": [
{
 "width": 1198, "height": 160,
 "layer": [
  {"data": {"name": "d"}, "transform": [{"filter": "datum.s == 'a = 0.1'"}],
   "mark": {"type": "line", "interpolate": "monotone", "strokeWidth": 2, "clip": true},
   "encoding": {
    "x": {"field": "t", "type": "quantitative", "scale": {"domain": [0, 100], "nice": false, "zero": false}, "axis": {"orient": "bottom", "values": [0,10,20,30,40,50,60,70,80,90,100], "labelPadding": 17, "labelFlush": false, "labelFont": "Liberation Serif", "labelFontSize": 24, "title": "t", "titleFont": "Liberation Serif", "titleFontSize": 26, "titleFontStyle": "italic", "titleY": 61, "titleBaseline": "alphabetic"}},
    "y": {"field": "v", "type": "quantitative", "scale": {"domain": [-0.1, 0.1], "nice": false}, "axis": {"orient": "left", "values": [-0.1, 0, 0.1], "labelPadding": 19, "labelFont": "Liberation Serif", "labelFontSize": 24, "labelExpr": "datum.value > 0.05 ? '0.1' : (datum.value < -0.05 ? '-0.1' : '0')", "title": "ϑ", "titleAngle": 0, "titleX": -51, "titleY": 60, "titleAlign": "center", "titleBaseline": "middle", "titleFont": "DejaVu Serif", "titleFontStyle": "italic", "titleFontSize": 28}},
    "color": {"field": "s", "type": "nominal", "scale": {"domain": ["a = 0.1", "Incompressible"], "range": ["#000000", "#ff00ff"]}, "legend": {"title": null}},
    "strokeDash": {"field": "s", "type": "nominal", "scale": {"domain": ["a = 0.1", "Incompressible"], "range": [[1, 0], [1.5, 1.5]]}, "legend": {"title": null}}
   }},
  {"data": {"name": "d"}, "transform": [{"filter": "datum.s == 'Incompressible'"}],
   "mark": {"type": "line", "interpolate": "monotone", "strokeWidth": 1.5, "clip": true},
   "encoding": {
    "x": {"field": "t", "type": "quantitative", "axis": {"orient": "top", "values": [0,10,20,30,40,50,60,70,80,90,100], "labels": false, "title": null}},
    "y": {"field": "v", "type": "quantitative", "axis": {"orient": "right", "values": [-0.1, 0, 0.1], "labels": false, "title": null}},
    "color": {"field": "s", "type": "nominal"},
    "strokeDash": {"field": "s", "type": "nominal"}
   }}
 ],
 "resolve": {"axis": {"x": "independent", "y": "independent"}}
},
{
 "width": 1198, "height": 160,
 "layer": [
  {"data": {"name": "d"}, "transform": [{"filter": "datum.s == 'a = 20'"}],
   "mark": {"type": "line", "interpolate": "monotone", "strokeWidth": 2, "clip": true},
   "encoding": {
    "x": {"field": "t", "type": "quantitative", "scale": {"domain": [0, 100], "nice": false, "zero": false}, "axis": {"orient": "bottom", "values": [0,10,20,30,40,50,60,70,80,90,100], "labelPadding": 17, "labelFlush": false, "labelFont": "Liberation Serif", "labelFontSize": 24, "title": "t", "titleFont": "Liberation Serif", "titleFontSize": 26, "titleFontStyle": "italic", "titleY": 61, "titleBaseline": "alphabetic"}},
    "y": {"field": "v", "type": "quantitative", "scale": {"domain": [-0.1, 0.1], "nice": false}, "axis": {"orient": "left", "values": [-0.1, 0, 0.1], "labelPadding": 19, "labelFont": "Liberation Serif", "labelFontSize": 24, "labelExpr": "datum.value > 0.05 ? '0.1' : (datum.value < -0.05 ? '-0.1' : '0')", "title": "ϑ", "titleAngle": 0, "titleX": -51, "titleY": 58, "titleAlign": "center", "titleBaseline": "middle", "titleFont": "DejaVu Serif", "titleFontStyle": "italic", "titleFontSize": 28}},
    "color": {"field": "s", "type": "nominal", "scale": {"domain": ["a = 20", "Incompressible"], "range": ["#000000", "#ff00ff"]}, "legend": {"title": null}},
    "strokeDash": {"field": "s", "type": "nominal", "scale": {"domain": ["a = 20", "Incompressible"], "range": [[1, 0], [1.5, 1.5]]}, "legend": {"title": null}}
   }},
  {"data": {"name": "d"}, "transform": [{"filter": "datum.s == 'Incompressible'"}],
   "mark": {"type": "line", "interpolate": "monotone", "strokeWidth": 1.5, "clip": true},
   "encoding": {
    "x": {"field": "t", "type": "quantitative", "axis": {"orient": "top", "values": [0,10,20,30,40,50,60,70,80,90,100], "labels": false, "title": null}},
    "y": {"field": "v", "type": "quantitative", "axis": {"orient": "right", "values": [-0.1, 0, 0.1], "labels": false, "title": null}},
    "color": {"field": "s", "type": "nominal"},
    "strokeDash": {"field": "s", "type": "nominal"}
   }}
 ],
 "resolve": {"axis": {"x": "independent", "y": "independent"}}
},
{
 "width": 1198, "height": 160,
 "layer": [
  {"data": {"name": "d"}, "transform": [{"filter": "datum.s == 'a = 100'"}],
   "mark": {"type": "line", "interpolate": "monotone", "strokeWidth": 2, "clip": true},
   "encoding": {
    "x": {"field": "t", "type": "quantitative", "scale": {"domain": [0, 100], "nice": false, "zero": false}, "axis": {"orient": "bottom", "values": [0,10,20,30,40,50,60,70,80,90,100], "labelPadding": 17, "labelFlush": false, "labelFont": "Liberation Serif", "labelFontSize": 24, "title": "t", "titleFont": "Liberation Serif", "titleFontSize": 26, "titleFontStyle": "italic", "titleY": 59, "titleBaseline": "alphabetic"}},
    "y": {"field": "v", "type": "quantitative", "scale": {"domain": [-0.1, 0.1], "nice": false}, "axis": {"orient": "left", "values": [-0.1, 0, 0.1], "labelPadding": 19, "labelFont": "Liberation Serif", "labelFontSize": 24, "labelExpr": "datum.value > 0.05 ? '0.1' : (datum.value < -0.05 ? '-0.1' : '0')", "title": "ϑ", "titleAngle": 0, "titleX": -51, "titleY": 55, "titleAlign": "center", "titleBaseline": "middle", "titleFont": "DejaVu Serif", "titleFontStyle": "italic", "titleFontSize": 28}},
    "color": {"field": "s", "type": "nominal", "scale": {"domain": ["a = 100", "Incompressible"], "range": ["#000000", "#ff00ff"]}, "legend": {"title": null}},
    "strokeDash": {"field": "s", "type": "nominal", "scale": {"domain": ["a = 100", "Incompressible"], "range": [[1, 0], [1.5, 1.5]]}, "legend": {"title": null}}
   }},
  {"data": {"name": "d"}, "transform": [{"filter": "datum.s == 'Incompressible'"}],
   "mark": {"type": "line", "interpolate": "monotone", "strokeWidth": 1.5, "clip": true},
   "encoding": {
    "x": {"field": "t", "type": "quantitative", "axis": {"orient": "top", "values": [0,10,20,30,40,50,60,70,80,90,100], "labels": false, "title": null}},
    "y": {"field": "v", "type": "quantitative", "axis": {"orient": "right", "values": [-0.1, 0, 0.1], "labels": false, "title": null}},
    "color": {"field": "s", "type": "nominal"},
    "strokeDash": {"field": "s", "type": "nominal"}
   }}
 ],
 "resolve": {"axis": {"x": "independent", "y": "independent"}}
}
]
}
